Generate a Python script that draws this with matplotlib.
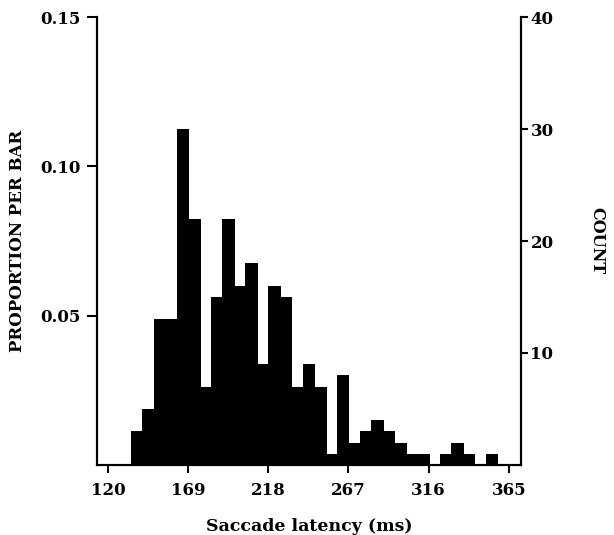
import numpy as np
import matplotlib.pyplot as plt

plt.rcParams['font.family'] = 'DejaVu Serif'
plt.rcParams['font.weight'] = 'bold'

# histogram of saccade latencies, 7 ms bins
bin_edges = np.arange(134, 365, 7)
counts = [3, 5, 13, 13, 30, 22, 7, 15, 22, 16, 18, 9, 16, 15, 7, 9,
          7, 1, 8, 2, 3, 4, 3, 2, 1, 1, 0, 1, 2, 1, 0, 1, 0]

x_ticks = [120, 169, 218, 267, 316, 365]
prop_ticks = [0.05, 0.10, 0.15]
prop_labels = ["0.05", "0.10", "0.15"]
count_ticks = [10, 20, 30, 40]

fig = plt.figure(figsize=(6.14, 5.35), dpi=100)
ax = fig.add_axes([0.158, 0.131, 0.690, 0.837])
ax2 = ax.twinx()

ax2.bar(bin_edges[:len(counts)], counts, width=7, align='edge',
        color='black', edgecolor='black', linewidth=0.5, antialiased=False)

ax.set_xlim(113.3, 372.3)
ax.set_ylim(0, 0.15)
ax2.set_ylim(0, 40)

ax.set_xticks(x_ticks)
ax.set_yticks(prop_ticks)
ax.set_yticklabels(prop_labels)
ax2.set_yticks(count_ticks)

for a in (ax, ax2):
    a.spines['top'].set_visible(False)
    for s in a.spines.values():
        s.set_linewidth(1.5)
    a.tick_params(width=1.5, length=7, labelsize=12, direction='out')

ax.tick_params(axis='y', pad=5)
ax.tick_params(axis='x', length=6, pad=6)
ax2.tick_params(axis='y', length=5, pad=2)

ax.set_xlabel("Saccade latency (ms)", fontsize=12.5, fontweight='bold', labelpad=14)
ax.set_ylabel("PROPORTION PER BAR", fontsize=12, fontweight='bold', labelpad=10)
ax2.set_ylabel("COUNT", fontsize=11.5, fontweight='bold', rotation=-90, labelpad=37)

fig.savefig("out.png", dpi=100)
